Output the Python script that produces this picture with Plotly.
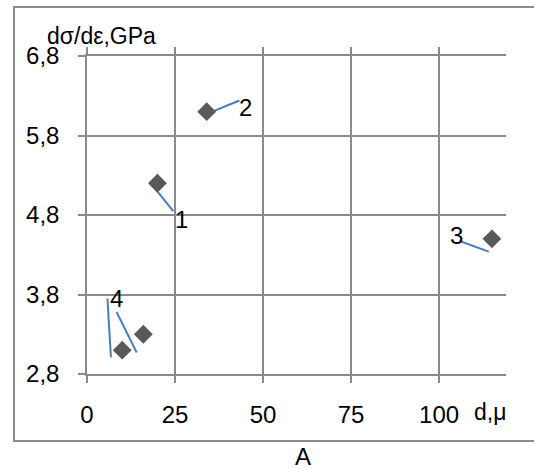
import plotly.graph_objects as go

# data points (d, dσ/dε)
pt_x = [20, 34, 115, 10, 16]
pt_y = [5.2, 6.1, 4.5, 3.1, 3.3]

# data labels and their leader lines
label_text = ["1", "2", "3", "4"]
label_x = [26.9, 45.1, 104.8, 8.3]
label_y = [4.74, 6.15, 4.54, 3.75]
leader_x = [[19.4, 24.5], [33.3, 43.3], [106.0, 114.1], [5.8, 6.8], [8.4, 14.1]]
leader_y = [[5.13, 4.85], [6.06, 6.24], [4.47, 4.34], [3.75, 3.01], [3.58, 3.07]]

x_ticks = [0, 25, 50, 75, 100]
y_ticks = [2.8, 3.8, 4.8, 5.8, 6.8]

GRID = "#8a8a8a"
BLUE = "#4a7ebb"
FONT = "Liberation Sans, Arial, sans-serif"

fig = go.Figure()
for lx, ly in zip(leader_x, leader_y):
    fig.add_trace(go.Scatter(x=lx, y=ly, mode="lines",
                             line=dict(color=BLUE, width=2),
                             showlegend=False, hoverinfo="skip"))
fig.add_trace(go.Scatter(x=pt_x, y=pt_y, mode="markers",
                         marker=dict(symbol="diamond", size=14.5, color="#595959"),
                         showlegend=False))
# invisible trace on top axis to keep it shown
fig.add_trace(go.Scatter(x=[pt_x[0]], y=[pt_y[0]], xaxis="x2", mode="markers",
                         marker=dict(opacity=0), showlegend=False, hoverinfo="skip"))

for t, x, y in zip(label_text, label_x, label_y):
    fig.add_annotation(x=x, y=y, text=t, showarrow=False,
                       font=dict(size=24, color="black", family=FONT))

fig.add_annotation(xref="paper", yref="paper", x=-0.1002, y=1.063,
                   xanchor="left", yanchor="middle", text="dσ/dε,GPa",
                   showarrow=False, font=dict(size=23, color="black", family=FONT))
fig.add_annotation(xref="paper", yref="paper", x=0.918, y=-0.1195,
                   xanchor="left", yanchor="middle", text="d,μ",
                   showarrow=False, font=dict(size=23, color="black", family=FONT))
fig.add_annotation(xref="paper", yref="paper", x=0.5155, y=-0.26,
                   xanchor="center", yanchor="middle", text="A",
                   showarrow=False, font=dict(size=24, color="black", family=FONT))

fig.add_shape(type="rect", xref="paper", yref="paper",
              x0=-0.1742, x1=1.08, y0=-0.2107, y1=1.154,
              line=dict(color="#8c8c8c", width=2), layer="below")

axis_common = dict(showgrid=True, gridcolor=GRID, gridwidth=1.5,
                   showline=True, linecolor=GRID, linewidth=1.5,
                   ticks="outside", ticklen=7, tickcolor=GRID, tickwidth=1.5,
                   zeroline=False,
                   tickfont=dict(size=24, color="black", family=FONT))

fig.update_layout(
    width=534, height=469,
    margin=dict(l=87, r=28, t=56, b=95),
    paper_bgcolor="white", plot_bgcolor="white",
    separators=", ",
    xaxis=dict(range=[0, 119], tickvals=x_ticks, ticklabelstandoff=11, **axis_common),
    xaxis2=dict(range=[0, 119], overlaying="x", side="top", tickvals=x_ticks,
                showticklabels=False, showgrid=False, showline=True,
                linecolor=GRID, linewidth=1.5, ticks="outside", ticklen=7,
                tickcolor=GRID, tickwidth=1.5, zeroline=False),
    yaxis=dict(range=[2.8, 6.8], tickvals=y_ticks, tickformat=".1f",
               ticklabelstandoff=14, **axis_common),
)

fig.write_html("out.html")
